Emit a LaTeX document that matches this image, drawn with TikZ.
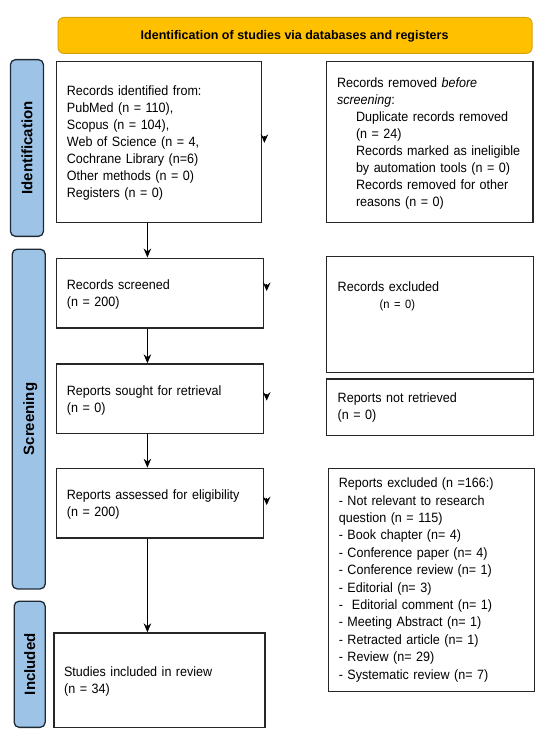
\documentclass[tikz,border=0pt]{standalone}
\usepackage{fontspec}
\setmainfont{Liberation Sans}
\newfontfamily\narrowfont{Liberation Sans}[FakeStretch=0.93]
\usetikzlibrary{arrows.meta,calc}

\definecolor{headgold}{HTML}{FFC000}
\definecolor{headedge}{HTML}{D4A20A}
\definecolor{barblue}{HTML}{9DC3E6}
\definecolor{baredge}{HTML}{1E2A36}

\begin{document}
\begin{tikzpicture}[x=1pt,y=-1pt,
    box/.style={draw=black!85,line width=1.2pt,anchor=north west,inner sep=0pt},
    txt/.style={anchor=base west,inner sep=0pt,text width=200pt,align=left,
      font=\narrowfont\fontsize{13.5}{17}\selectfont},
    sidebar/.style={draw=baredge,fill=barblue,line width=1.3pt,rounded corners=5pt,
      anchor=north west,inner sep=0pt},
    sidelabel/.style={rotate=90,anchor=base,inner sep=0pt,font=\bfseries\fontsize{15}{18}\selectfont},
    flow/.style={-{Stealth[length=9pt,width=7.5pt,inset=3pt]},line width=0.9pt},
    sidetip/.style={-{Stealth[length=8.5pt,width=7.5pt,inset=3pt]},line width=0.9pt}]
  \useasboundingbox (0,0) rectangle (550,735);

  % header
  \node[box,draw=headedge,fill=headgold,rounded corners=6pt,line width=0.9pt,
    minimum width=474.2pt,minimum height=36pt] (head) at (57.5,17) {};
  \node[anchor=base,inner sep=0pt,font=\bfseries\fontsize{12.5}{15}\selectfont] (headtxt)
    at (294.6,40) {Identification of studies via databases and registers};

  % phases
  \node[sidebar,minimum width=33pt,minimum height=176.7pt] (idbar) at (9.8,59) {};
  \node[sidelabel] (idlab) at ($(idbar.center)+(5.3,0)$) {Identification};
  \node[sidebar,minimum width=33pt,minimum height=339.8pt] (scbar) at (11.6,248.5) {};
  \node[sidelabel] (sclab) at ($(scbar.center)+(5.3,0)$) {Screening};
  \node[sidebar,minimum width=31pt,minimum height=126.2pt] (inbar) at (13.5,600.5) {};
  \node[sidelabel] (inlab) at ($(inbar.center)+(5.5,0)$) {Included};

  % left column
  \node[box,minimum width=204.7pt,minimum height=161pt] (ident) at (56,60.7) {};
  \node[txt] (identtxt) at ($(ident.north west)+(10.7,35)$) {Records identified from:\\
    PubMed (n = 110),\\ Scopus (n = 104),\\ Web of Science (n = 4,\\
    Cochrane Library (n=6)\\ Other methods (n = 0)\\ Registers (n = 0)};
  \node[box,minimum width=207pt,minimum height=69.8pt] (screened) at (56,257.5) {};
  \node[txt] (screenedtxt) at ($(screened.north west)+(10.7,31.8)$) {Records screened\\ (n = 200)};
  \node[box,minimum width=207pt,minimum height=69.4pt] (sought) at (56,363.3) {};
  \node[txt] (soughttxt) at ($(sought.north west)+(10.7,31.7)$) {Reports sought for retrieval\\ (n = 0)};
  \node[box,minimum width=207pt,minimum height=69.6pt] (assessed) at (56,467.7) {};
  \node[txt] (assessedtxt) at ($(assessed.north west)+(10.7,31.3)$) {Reports assessed for eligibility\\ (n = 200)};
  \node[box,minimum width=211pt,minimum height=94.4pt] (included) at (53.3,632.3) {};
  \node[txt] (includedtxt) at ($(included.north west)+(10.6,43.7)$) {Studies included in review\\ (n = 34)};

  % right column
  \node[box,minimum width=206.7pt,minimum height=161pt] (removed) at (325.6,60.7) {};
  \node[txt] (removedtxt) at ($(removed.north west)+(11.2,26.7)$) {Records removed \textit{before}\\
    \textit{screening}:\\
    \hspace*{19pt}Duplicate records removed\\ \hspace*{19pt}(n = 24)\\
    \hspace*{19pt}Records marked as ineligible\\ \hspace*{19pt}by automation tools (n = 0)\\
    \hspace*{19pt}Records removed for other\\ \hspace*{19pt}reasons (n = 0)};
  \node[box,minimum width=207pt,minimum height=115.7pt] (excluded) at (326,256) {};
  \node[txt] (excludedtxt) at ($(excluded.north west)+(11.5,35.7)$) {Records excluded\\
    \hspace*{42pt}{\fontsize{12}{17}\selectfont(n = 0)}};
  \node[box,minimum width=207pt,minimum height=56.7pt] (notret) at (326,378.3) {};
  \node[txt] (notrettxt) at ($(notret.north west)+(11.5,24)$) {Reports not retrieved\\ (n = 0)};
  \node[box,minimum width=206pt,minimum height=222.7pt] (repexcl) at (328,468) {};
  \node[txt,font=\narrowfont\fontsize{13.5}{17.4}\selectfont] (repexcltxt)
    at ($(repexcl.north west)+(10.6,19.6)$) {Reports excluded (n =166:)\\
    - Not relevant to research\\ question (n = 115)\\ - Book chapter (n= 4)\\
    - Conference paper (n= 4)\\ - Conference review (n= 1)\\ - Editorial (n= 3)\\
    - \ Editorial comment (n= 1)\\ - Meeting Abstract (n= 1)\\ - Retracted article (n= 1)\\
    - Review (n= 29)\\ - Systematic review (n= 7)};

  % arrows
  \coordinate (spine) at (147.4,0);
  \draw[flow] (ident.south -| spine) -- (screened.north -| spine);
  \draw[flow] (screened.south -| spine) -- (sought.north -| spine);
  \draw[flow] (sought.south -| spine) -- (assessed.north -| spine);
  \draw[flow] (assessed.south -| spine) -- (included.north -| spine);
  \foreach \b/\dy in {ident/1,screened/-2,sought/2,assessed/2}
    \draw[sidetip] ($(\b.north east)!0.5!(\b.south east)+(2.5,\dy-7)$) -- ++(0,7);
\end{tikzpicture}
\end{document}
